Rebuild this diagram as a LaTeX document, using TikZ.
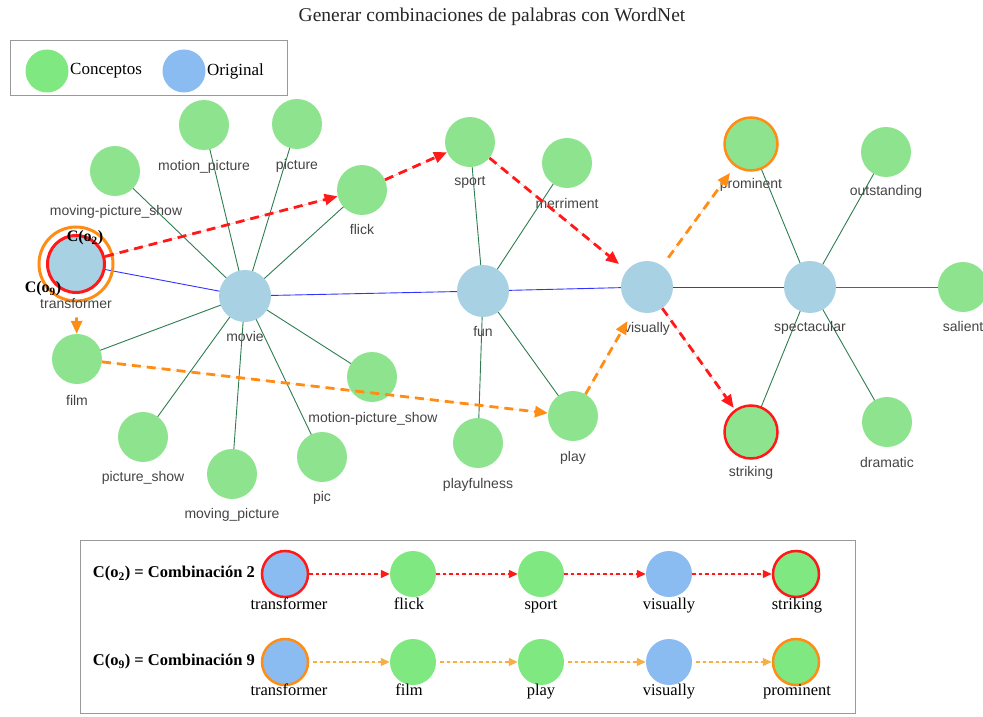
\documentclass[tikz,border=0pt]{standalone}
\usepackage{fontspec}
\setmainfont{Liberation Serif}
\setsansfont{Liberation Sans}
\usetikzlibrary{arrows.meta,backgrounds}
\definecolor{gG}{RGB}{142,228,142}
\definecolor{gB}{RGB}{168,210,228}
\definecolor{lG}{RGB}{128,232,128}
\definecolor{lB}{RGB}{138,188,242}
\definecolor{eG}{RGB}{45,125,80}
\definecolor{eB}{RGB}{50,50,255}
\definecolor{rR}{RGB}{255,25,25}
\definecolor{oO}{RGB}{255,140,20}
\definecolor{oL}{RGB}{245,175,70}
\definecolor{lblc}{RGB}{68,68,68}
\tikzset{
  cnode/.style={circle,fill=gG,minimum size=50pt,inner sep=0pt},
  onode/.style={circle,fill=gB,minimum size=52pt,inner sep=0pt},
  lbl/.style={font=\sffamily\fontsize{14}{16}\selectfont,text=lblc,inner sep=0pt,anchor=center,text height=10pt,text depth=3pt},
  gedge/.style={draw=eG,line width=0.9pt},
  bedge/.style={draw=eB,line width=0.9pt},
  rarr/.style={draw=rR,line width=2.8pt,dash pattern=on 9pt off 6pt,-{Triangle[length=13pt,width=11pt]},fill=rR},
  oarr/.style={draw=oO,line width=2.8pt,dash pattern=on 9pt off 6pt,-{Triangle[length=13pt,width=11pt]},fill=oO},
  bgnode/.style={circle,minimum size=46pt,inner sep=0pt},
  blbl/.style={font=\fontsize{16.5}{18}\selectfont,inner sep=0pt,text height=11pt,text depth=4pt},
  brarr/.style={draw=rR,line width=1.3pt,dash pattern=on 3.5pt off 3pt,-{Triangle[length=9pt,width=8pt]},fill=rR},
  boarr/.style={draw=oL,line width=1.3pt,dash pattern=on 3.5pt off 3pt,-{Triangle[length=9pt,width=8pt]},fill=oO},
  clbl/.style={font=\bfseries\fontsize{16}{18}\selectfont,inner sep=0pt}
}
\begin{document}
\begin{tikzpicture}[x=1pt,y=-1pt]
\useasboundingbox (0,0) rectangle (983,717);
% title
\node[font=\fontsize{19.5}{22}\selectfont,text=black!85] (title) at (492,17) {Generar combinaciones de palabras con WordNet};
% legend
\node[draw=black!40,line width=0.8pt,minimum width=277pt,minimum height=55pt,inner sep=0pt] (legbox) at (148.5,68) {};
\node[circle,fill=lG,minimum size=43pt,inner sep=0pt] (legc) at (47,71) {};
\node[font=\fontsize{17}{19}\selectfont,anchor=west,inner sep=0pt] (legct) at (70,71) {Conceptos};
\node[circle,fill=lB,minimum size=43pt,inner sep=0pt] (lego) at (184,71) {};
\node[font=\fontsize{17}{19}\selectfont,anchor=west,inner sep=0pt] (legot) at (207,71) {Original};

% graph nodes
\node[circle,draw=oO,line width=3pt,minimum size=74pt] (tro) at (76,264) {};
\node[circle,fill=gB,draw=rR,line width=3pt,minimum size=57pt,inner sep=0pt] (tr) at (76,264) {};
\node[onode] (movie) at (245,296) {};
\node[cnode] (mp) at (204,125) {};
\node[cnode] (pi) at (297,124) {};
\node[cnode] (mps) at (115,171) {};
\node[cnode] (flick) at (362,190) {};
\node[cnode] (film) at (77,359) {};
\node[cnode] (ps) at (143,437) {};
\node[cnode] (mvp) at (232,474) {};
\node[cnode] (pic) at (322,457) {};
\node[cnode] (mpsh) at (372,377) {};
\node[onode] (fun) at (483,291) {};
\node[cnode] (sport) at (470,142) {};
\node[cnode] (merr) at (567,163) {};
\node[cnode] (playf) at (478,443) {};
\node[cnode] (play) at (573,416) {};
\node[onode] (vis) at (647,287) {};
\node[cnode,draw=oO,line width=2.5pt,minimum size=53pt] (prom) at (751,144) {};
\node[cnode,draw=rR,line width=2.5pt,minimum size=53pt] (strk) at (751,432) {};
\node[onode] (spec) at (810,287) {};
\node[cnode] (outs) at (886,152) {};
\node[cnode] (sal) at (963,287) {};
\node[cnode] (dram) at (887,422) {};

% edges behind
\begin{scope}[on background layer]
\draw[bedge] (tr.center) -- (movie.center);
\draw[bedge] (movie.center) -- (fun.center);
\draw[bedge] (fun.center) -- (vis.center);
\draw[bedge] (vis.center) -- (spec.center);
\foreach \n in {mp,pi,mps,flick,film,ps,mvp,pic,mpsh} \draw[gedge] (movie.center) -- (\n.center);
\foreach \n in {sport,merr,playf,play} \draw[gedge] (fun.center) -- (\n.center);
\foreach \n in {prom,outs,sal,dram,strk} \draw[gedge] (spec.center) -- (\n.center);
\end{scope}

% labels
\node[lbl] (trl) at (76,305) {transformer};
\node[lbl] (moviel) at (245,338) {movie};
\node[lbl] (mpl) at (204,167) {motion\_picture};
\node[lbl] (pil) at (297,166) {picture};
\node[lbl] (mpsl) at (116,212) {moving-picture\_show};
\node[lbl] (flickl) at (362,231) {flick};
\node[lbl] (filml) at (77,402) {film};
\node[lbl] (psl) at (143,478) {picture\_show};
\node[lbl] (mvpl) at (232,515) {moving\_picture};
\node[lbl] (picl) at (322,498) {pic};
\node[lbl] (mpshl) at (373,419) {motion-picture\_show};
\node[lbl] (funl) at (483,333) {fun};
\node[lbl] (sportl) at (470,182) {sport};
\node[lbl] (merrl) at (567,205) {merriment};
\node[lbl] (playfl) at (478,485) {playfulness};
\node[lbl] (playl) at (573,458) {play};
\node[lbl] (visl) at (647,329) {visually};
\node[lbl] (proml) at (751,185) {prominent};
\node[lbl] (strkl) at (751,473) {striking};
\node[lbl] (specl) at (810,328) {spectacular};
\node[lbl] (outsl) at (886,192) {outstanding};
\node[lbl] (sall) at (963,328) {salient};
\node[lbl] (draml) at (887,464) {dramatic};

\node[clbl] (c2) at (85,238) {C(o\textsubscript{2})};
\node[clbl] (c9) at (43,289) {C(o\textsubscript{9})};

% combination arrows
\draw[rarr] (tr) -- (flick);
\draw[rarr] (flick) -- (sport);
\draw[rarr,shorten >=10pt] (sport) -- (vis);
\draw[rarr,shorten >=2pt] (vis) -- (strk);
\draw[oarr,shorten <=15pt] (tro) -- (film);
\draw[oarr] (film) -- (play);
\draw[oarr,shorten >=13pt] (play) -- (vis);
\draw[oarr,shorten <=10pt,shorten >=8pt] (vis) -- (prom);

% bottom box
\node[draw=black!40,line width=0.8pt,minimum width=775pt,minimum height=173pt,inner sep=0pt] (botbox) at (467.5,626.5) {};
\node[clbl,font=\bfseries\fontsize{16.5}{18}\selectfont,anchor=east] (r1t) at (255,574) {C(o\textsubscript{2}) = Combinación 2};
\node[clbl,font=\bfseries\fontsize{16.5}{18}\selectfont,anchor=east] (r2t) at (255,662) {C(o\textsubscript{9}) = Combinación 9};

\node[bgnode,fill=lB,draw=rR,line width=2.5pt] (a1) at (285,574) {};
\node[bgnode,fill=lG] (a2) at (413,574) {};
\node[bgnode,fill=lG] (a3) at (541,574) {};
\node[bgnode,fill=lB] (a4) at (669,574) {};
\node[bgnode,fill=lG,draw=rR,line width=2.5pt] (a5) at (796,574) {};
\node[blbl] (a1l) at (289,606) {transformer};
\node[blbl] (a2l) at (409,606) {flick};
\node[blbl] (a3l) at (541,606) {sport};
\node[blbl] (a4l) at (669,606) {visually};
\node[blbl] (a5l) at (797,606) {striking};
\draw[brarr] (a1) -- (a2);
\draw[brarr] (a2) -- (a3);
\draw[brarr] (a3) -- (a4);
\draw[brarr] (a4) -- (a5);

\node[bgnode,fill=lB,draw=oO,line width=2.5pt] (b1) at (285,662) {};
\node[bgnode,fill=lG] (b2) at (413,662) {};
\node[bgnode,fill=lG] (b3) at (541,662) {};
\node[bgnode,fill=lB] (b4) at (669,662) {};
\node[bgnode,fill=lG,draw=oO,line width=2.5pt] (b5) at (796,662) {};
\node[blbl] (b1l) at (289,692) {transformer};
\node[blbl] (b2l) at (409,692) {film};
\node[blbl] (b3l) at (541,692) {play};
\node[blbl] (b4l) at (669,692) {visually};
\node[blbl] (b5l) at (797,692) {prominent};
\draw[boarr,shorten <=4pt] (b1) -- (b2);
\draw[boarr,shorten <=4pt] (b2) -- (b3);
\draw[boarr,shorten <=4pt] (b3) -- (b4);
\draw[boarr,shorten <=4pt] (b4) -- (b5);
\end{tikzpicture}
\end{document}
